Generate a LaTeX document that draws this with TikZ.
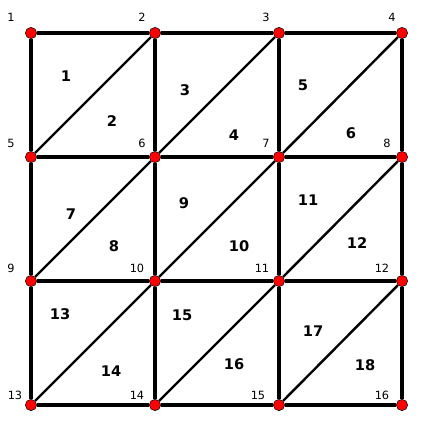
\documentclass[tikz,border=0pt]{standalone}
\usepackage{fontspec}
\setmainfont{DejaVu Sans}
\begin{document}
\begin{tikzpicture}[x=0.75pt, y=-0.75pt,
    vertex/.style={circle, draw=black, line width=0.4pt, fill=red, inner sep=0pt, minimum size=8.5pt},
    vlabel/.style={font=\fontsize{8.5}{10}\selectfont, inner sep=0pt},
    tlabel/.style={font=\bfseries\fontsize{11}{13}\selectfont, inner sep=0pt},
    edge/.style={line width=3pt},
    diag/.style={line width=1.8pt}]
    \useasboundingbox (0,0) rectangle (436,430);

    % grid vertices
    \foreach \i/\x/\y in {1/31/33, 2/155/33, 3/279/33, 4/402/33,
                          5/31/157, 6/155/157, 7/279/157, 8/402/157,
                          9/31/281, 10/155/281, 11/279/281, 12/402/281,
                          13/31/405, 14/155/405, 15/279/405, 16/402/405}
        \node[vertex] (n\i) at (\x,\y) {};

    % square edges
    \foreach \a/\b in {1/2, 2/3, 3/4, 5/6, 6/7, 7/8, 9/10, 10/11, 11/12, 13/14, 14/15, 15/16,
                       1/5, 5/9, 9/13, 2/6, 6/10, 10/14, 3/7, 7/11, 11/15, 4/8, 8/12, 12/16}
        \draw[edge] (n\a) -- (n\b);

    % diagonals
    \foreach \a/\b in {5/2, 6/3, 7/4, 9/6, 10/7, 11/8, 13/10, 14/11, 15/12}
        \draw[diag] (n\a) -- (n\b);

    % vertex numbers
    \foreach \i/\x/\y in {1/11/17, 2/142/17, 3/266/17, 4/392/17,
                          5/11/143, 6/142/143, 7/266/143, 8/387/143,
                          9/11/268, 10/137/268, 11/262/268, 12/382/268,
                          13/15/395, 14/137/395, 15/258/395, 16/382/395}
        \node[vlabel] (v\i) at (\x,\y) {\i};

    % triangle numbers
    \foreach \i/\x/\y in {1/66/76, 2/112/121, 3/185/90, 4/234/135, 5/303/85, 6/351/133,
                          7/71/214, 8/114/246, 9/184/203, 10/239/246, 11/308/200, 12/357/243,
                          13/60/314, 14/111/371, 15/182/315, 16/234/364, 17/313/331, 18/365/365}
        \node[tlabel] (t\i) at (\x,\y) {\i};
\end{tikzpicture}
\end{document}
